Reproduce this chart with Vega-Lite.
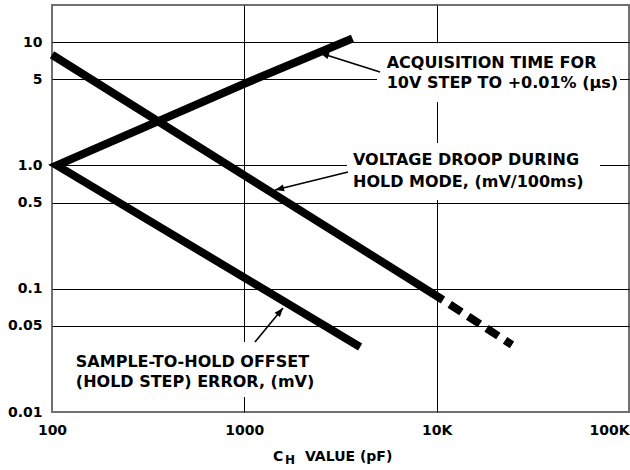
{
  "$schema": "https://vega.github.io/schema/vega-lite/v6.json",
  "width": 577,
  "height": 407,
  "autosize": "none",
  "padding": {"left": 52, "top": 5, "right": 1, "bottom": 58},
  "background": "white",
  "config": {
    "view": {"stroke": "#707070", "strokeWidth": 2},
    "text": {"font": "DejaVu Sans", "fontWeight": "bold", "color": "black"}
  },
  "datasets": {
    "boxes": [
      {"x": 4896, "x2": 89810, "y": 9.8, "y2": 3.27},
      {"x": 3419, "x2": 70700, "y": 1.52, "y2": 0.524},
      {"x": 121, "x2": 2723, "y": 0.03697, "y2": 0.01323}
    ],
    "curves": [
      {"path": "acquisition / offset", "ord": 1, "x": 3650, "y": 10.7},
      {"path": "acquisition / offset", "ord": 2, "x": 1000, "y": 4.6},
      {"path": "acquisition / offset", "ord": 3, "x": 106, "y": 1.0},
      {"path": "acquisition / offset", "ord": 4, "x": 4000, "y": 0.0337},
      {"path": "droop", "ord": 1, "x": 100, "y": 7.9},
      {"path": "droop", "ord": 2, "x": 10790, "y": 0.081}
    ],
    "dashed": [
      {"path": "droop extension", "x": 10790, "y": 0.081},
      {"path": "droop extension", "x": 24640, "y": 0.035}
    ],
    "arrows": [
      {"arrow": "A1", "end": "tip", "x": 2474, "y": 8.16},
      {"arrow": "A1", "end": "tail", "x": 5074, "y": 5.72},
      {"arrow": "A2", "end": "tip", "x": 1444, "y": 0.632},
      {"arrow": "A2", "end": "tail", "x": 3459, "y": 0.884},
      {"arrow": "A3", "end": "tip", "x": 1589, "y": 0.0698},
      {"arrow": "A3", "end": "tail", "x": 1136, "y": 0.03697}
    ],
    "notes": [
      {"text": "ACQUISITION TIME FOR", "x": 5500, "y": 6.77},
      {"text": "10V STEP TO +0.01% (µs)", "x": 5500, "y": 4.66},
      {"text": "VOLTAGE DROOP DURING", "x": 3673, "y": 1.106},
      {"text": "HOLD MODE, (mV/100ms)", "x": 3673, "y": 0.733},
      {"text": "SAMPLE-TO-HOLD OFFSET", "x": 133, "y": 0.0254},
      {"text": "(HOLD STEP) ERROR, (mV)", "x": 133, "y": 0.0175}
    ],
    "title": [
      {"text": "C", "x": 1409, "y": 0.004315},
      {"text": "VALUE (pF)", "x": 2067, "y": 0.004315}
    ],
    "subscript": [
      {"text": "H", "x": 1627, "y": 0.00405}
    ]
  },
  "encoding": {
    "x": {
      "field": "x",
      "type": "quantitative",
      "scale": {"type": "log", "domain": [100, 100000], "nice": false},
      "axis": {
        "values": [100, 1000, 10000, 100000],
        "labelExpr": "datum.value==10000?'10K':datum.value==100000?'100K':datum.value==1000?'1000':'100'",
        "title": null,
        "ticks": false,
        "domain": false,
        "grid": true,
        "gridColor": "#000000",
        "gridWidth": 1,
        "gridOpacity": {"condition": {"test": "datum.value==100 || datum.value==100000", "value": 0}, "value": 1},
        "labelFont": "DejaVu Sans",
        "labelFontWeight": "bold",
        "labelFontSize": 14,
        "labelColor": "#000000",
        "labelPadding": 11,
        "labelFlush": false,
        "labelOverlap": false,
        "labelAlign": {"condition": {"test": "datum.value==100000", "value": "right"}, "value": "center"},
        "encode": {"labels": {"update": {"dx": {"signal": "datum.value==100000 ? 0 : -7"}}}}
      }
    },
    "y": {
      "field": "y",
      "type": "quantitative",
      "scale": {"type": "log", "domain": [0.01, 20], "nice": false},
      "axis": {
        "values": [0.01, 0.05, 0.1, 0.5, 1, 5, 10],
        "labelExpr": "datum.value==1?'1.0':datum.value==10?'10':datum.value==5?'5':datum.value==0.5?'0.5':datum.value==0.1?'0.1':datum.value==0.05?'0.05':'0.01'",
        "title": null,
        "ticks": false,
        "domain": false,
        "grid": true,
        "gridColor": "#000000",
        "gridWidth": 1,
        "gridOpacity": {"condition": {"test": "datum.value==0.01", "value": 0}, "value": 1},
        "labelFont": "DejaVu Sans",
        "labelFontWeight": "bold",
        "labelFontSize": 14,
        "labelColor": "#000000",
        "labelPadding": 10,
        "labelOverlap": false
      }
    }
  },
  "layer": [
    {
      "data": {"name": "boxes"},
      "mark": {"type": "rect", "color": "white", "strokeWidth": 0},
      "encoding": {"x2": {"field": "x2"}, "y2": {"field": "y2"}}
    },
    {
      "data": {"name": "curves"},
      "mark": {"type": "line", "color": "black", "strokeWidth": 8, "strokeCap": "butt", "strokeJoin": "miter"},
      "encoding": {"detail": {"field": "path"}, "order": {"field": "ord", "type": "quantitative"}}
    },
    {
      "data": {"name": "dashed"},
      "mark": {"type": "line", "color": "black", "strokeWidth": 8, "strokeCap": "butt", "strokeDash": [14, 8], "strokeDashOffset": 14},
      "encoding": {"detail": {"field": "path"}}
    },
    {
      "data": {"name": "arrows"},
      "mark": {"type": "line", "color": "black", "strokeWidth": 1.6},
      "encoding": {"detail": {"field": "arrow"}}
    },
    {
      "data": {"name": "arrows"},
      "transform": [{"filter": "datum.arrow=='A1' && datum.end=='tip'"}],
      "mark": {"type": "point", "shape": "M0,0L-0.38,1L0.38,1Z", "filled": true, "color": "black", "opacity": 1, "size": 324, "angle": 287.6}
    },
    {
      "data": {"name": "arrows"},
      "transform": [{"filter": "datum.arrow=='A2' && datum.end=='tip'"}],
      "mark": {"type": "point", "shape": "M0,0L-0.38,1L0.38,1Z", "filled": true, "color": "black", "opacity": 1, "size": 324, "angle": 256.1}
    },
    {
      "data": {"name": "arrows"},
      "transform": [{"filter": "datum.arrow=='A3' && datum.end=='tip'"}],
      "mark": {"type": "point", "shape": "M0,0L-0.38,1L0.38,1Z", "filled": true, "color": "black", "opacity": 1, "size": 324, "angle": 39.5}
    },
    {
      "data": {"name": "notes"},
      "mark": {"type": "text", "align": "left", "baseline": "middle", "fontSize": 16, "fontWeight": "bold", "font": "DejaVu Sans", "color": "black"},
      "encoding": {"text": {"field": "text"}}
    },
    {
      "data": {"name": "title"},
      "mark": {"type": "text", "align": "left", "baseline": "middle", "fontSize": 14, "fontWeight": "bold", "font": "DejaVu Sans", "color": "black"},
      "encoding": {"text": {"field": "text"}}
    },
    {
      "data": {"name": "subscript"},
      "mark": {"type": "text", "align": "left", "baseline": "middle", "fontSize": 12, "fontWeight": "bold", "font": "DejaVu Sans", "color": "black"},
      "encoding": {"text": {"field": "text"}}
    }
  ]
}
